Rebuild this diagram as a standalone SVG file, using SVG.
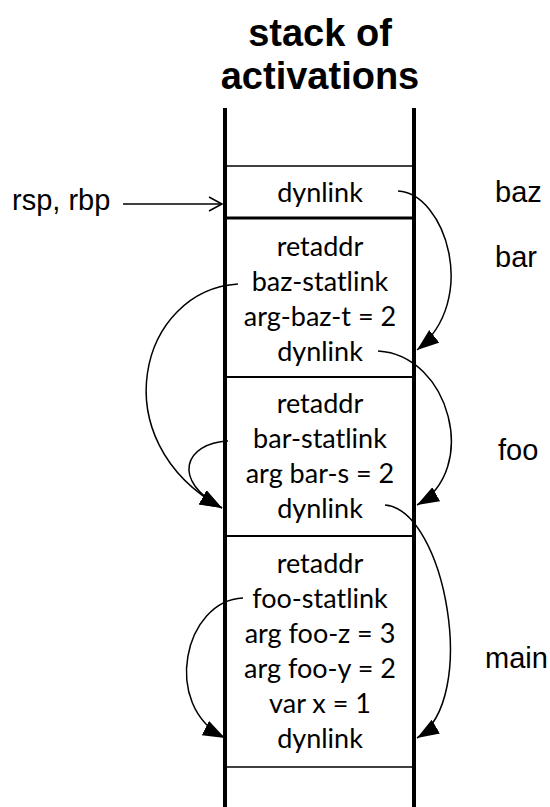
<svg xmlns="http://www.w3.org/2000/svg" width="550" height="807" viewBox="0 0 550 807">
  <style>
    .title { font-family: "Liberation Sans", Arial, sans-serif; font-weight: bold; font-size: 38px; fill: #000; text-anchor: middle; }
    .side { font-family: "Liberation Sans", Arial, sans-serif; font-size: 29px; fill: #000; }
    .cell { font-family: Lato, "Open Sans", sans-serif; font-size: 27px; fill: #000; text-anchor: middle; }
    .wall { stroke: #000; stroke-width: 4; fill: none; }
    .sep { stroke: #000; fill: none; }
    .link { stroke: #000; stroke-width: 1.5; fill: none; marker-end: url(#solid); }
  </style>
  <defs>
    <marker id="solid" markerUnits="userSpaceOnUse" markerWidth="24" markerHeight="18" refX="22" refY="8" orient="auto">
      <path d="M0,0 L22,8 L0,16 z" fill="#000"/>
    </marker>
    <marker id="open" markerUnits="userSpaceOnUse" markerWidth="16" markerHeight="18" refX="14" refY="8" orient="auto">
      <path d="M1,1 L14,8 L1,15" fill="none" stroke="#000" stroke-width="1.5"/>
    </marker>
  </defs>

  <g id="title">
    <text class="title" x="320" y="46">stack of</text>
    <text class="title" x="320" y="89">activations</text>
  </g>

  <!-- stack walls and frame separators -->
  <g id="stack">
    <line class="wall" x1="225" y1="108" x2="225" y2="807"/>
    <line class="wall" x1="414" y1="108" x2="414" y2="807"/>
    <line class="sep" x1="225" y1="166" x2="414" y2="166" stroke-width="1.5"/>
    <line class="sep" x1="225" y1="218" x2="414" y2="218" stroke-width="3"/>
    <line class="sep" x1="225" y1="377" x2="414" y2="377" stroke-width="2"/>
    <line class="sep" x1="225" y1="536" x2="414" y2="536" stroke-width="2"/>
    <line class="sep" x1="225" y1="767" x2="414" y2="767" stroke-width="1.5"/>
  </g>

  <g id="frame-baz">
    <text class="cell" x="320" y="202">dynlink</text>
  </g>

  <g id="frame-bar">
    <text class="cell" x="320" y="256">retaddr</text>
    <text class="cell" x="320" y="291">baz-statlink</text>
    <text class="cell" x="320" y="326">arg-baz-t = 2</text>
    <text class="cell" x="320" y="361">dynlink</text>
  </g>

  <g id="frame-foo">
    <text class="cell" x="320" y="413">retaddr</text>
    <text class="cell" x="320" y="448">bar-statlink</text>
    <text class="cell" x="320" y="483">arg bar-s = 2</text>
    <text class="cell" x="320" y="518">dynlink</text>
  </g>

  <g id="frame-main">
    <text class="cell" x="320" y="573">retaddr</text>
    <text class="cell" x="320" y="608">foo-statlink</text>
    <text class="cell" x="320" y="643">arg foo-z = 3</text>
    <text class="cell" x="320" y="678">arg foo-y = 2</text>
    <text class="cell" x="320" y="713">var x = 1</text>
    <text class="cell" x="320" y="748">dynlink</text>
  </g>

  <g id="labels">
    <text class="side" x="12" y="210">rsp, rbp</text>
    <text class="side" x="495" y="202">baz</text>
    <text class="side" x="495" y="267">bar</text>
    <text class="side" x="498" y="460">foo</text>
    <text class="side" x="485" y="668">main</text>
  </g>

  <g id="connectors">
    <!-- stack pointer -->
    <line x1="123" y1="204" x2="222" y2="204" stroke="#000" stroke-width="1.5" marker-end="url(#open)"/>
    <!-- dynamic links -->
    <path class="link" d="M398,191 C445,193 480,300 417,350"/>
    <path class="link" d="M378,351 C450,355 480,470 417,505"/>
    <path class="link" d="M385,505 C445,510 480,700 417,738"/>
    <!-- static links -->
    <path class="link" d="M238,284 C140,290 100,440 222,508"/>
    <path class="link" d="M228,441 C185,443 170,480 222,508"/>
    <path class="link" d="M243,598 C185,600 160,705 225,738"/>
  </g>
</svg>
